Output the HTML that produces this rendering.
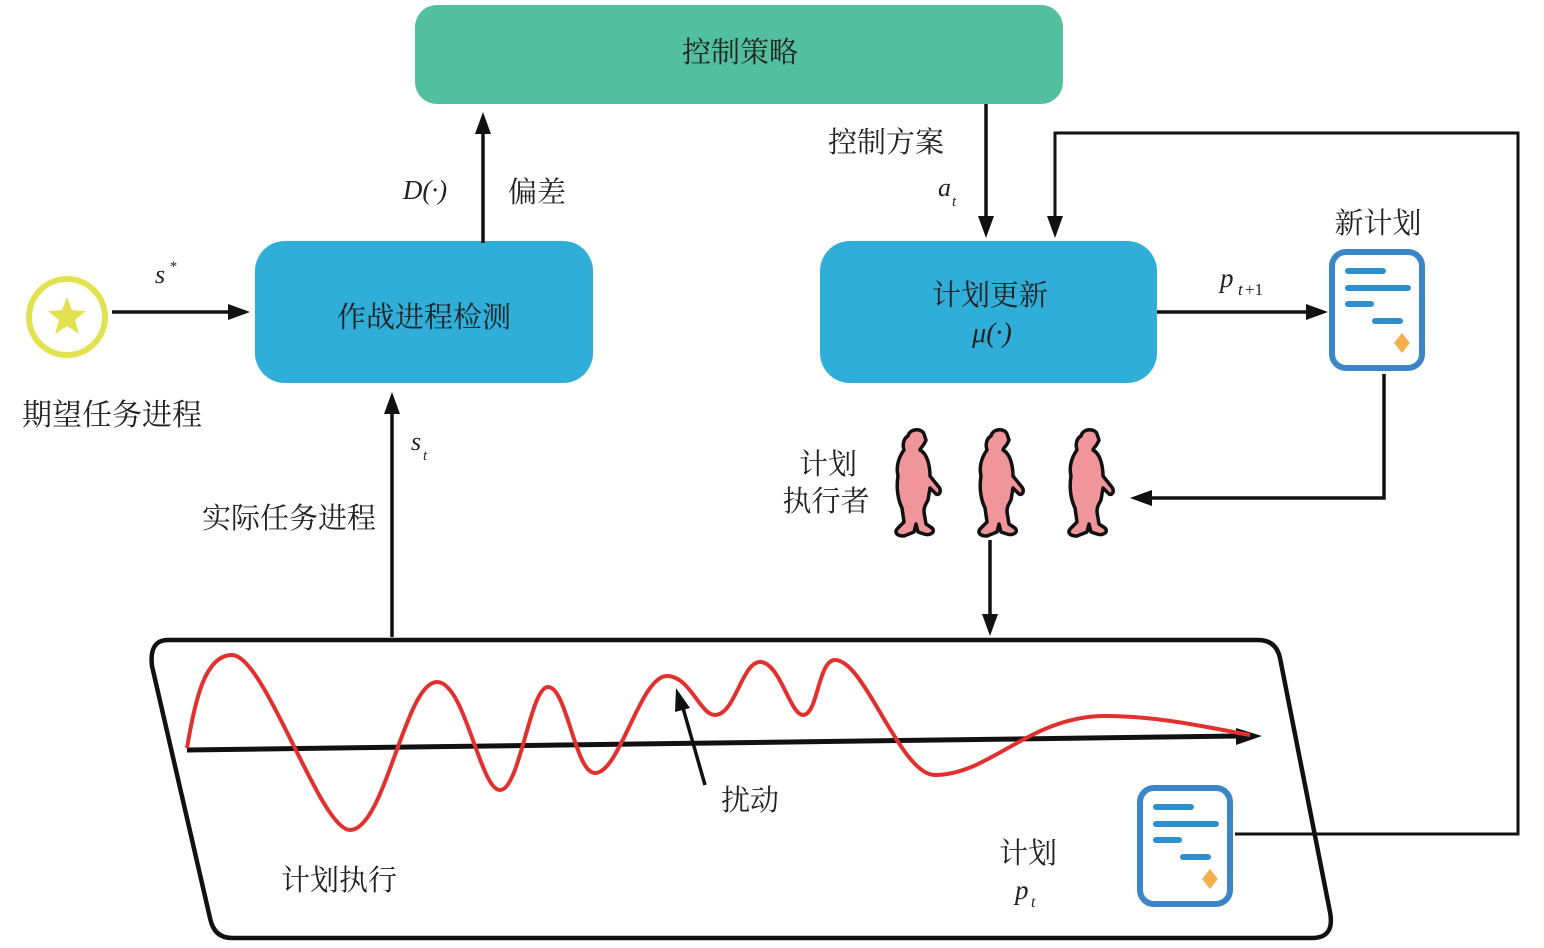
<!DOCTYPE html>
<html><head><meta charset="utf-8"><style>
html,body{margin:0;padding:0;background:#fff;}
svg{display:block;}
.cn{font-family:"Liberation Serif","Noto Serif CJK SC","Noto Sans CJK SC",serif;fill:#222;}
.it{font-family:"Liberation Serif",serif;font-style:italic;fill:#222;}
</style></head><body>
<svg width="1544" height="948" viewBox="0 0 1544 948" xmlns="http://www.w3.org/2000/svg">
<defs>
<marker id="ah" markerWidth="10" markerHeight="8" refX="9" refY="4" orient="auto" markerUnits="userSpaceOnUse" viewBox="0 0 10 8">
</marker>
<g id="sold">
<path d="M18,8 C20,0 32,0 34,6 L36,12 C34,18 30,20 30,22 C38,26 40,40 40,48 L48,58 C52,62 50,68 46,66 L40,60 L38,72 C36,76 34,78 34,84 L36,96 L42,100 C46,104 40,108 34,106 L28,104 L26,96 L24,104 L14,108 C6,108 4,104 8,100 L14,94 L12,80 C8,72 6,60 8,48 C6,40 8,30 14,22 C12,16 14,10 18,8 Z" fill="#f0959a" stroke="#111" stroke-width="3.5" stroke-linejoin="round"/>
</g>
<g id="doc">
<rect x="3" y="3" width="90" height="116" rx="14" fill="#fff" stroke="#3a86c6" stroke-width="6"/>
<g stroke="#2f8fcc" stroke-width="6" stroke-linecap="round">
<line x1="19" y1="22" x2="54" y2="22"/>
<line x1="19" y1="39" x2="79" y2="39"/>
<line x1="19" y1="55" x2="42" y2="55"/>
<line x1="46" y1="72" x2="71" y2="72"/>
</g>
<polygon points="73,84 81,94 73,104 65,94" fill="#f4b04f"/>
</g>
</defs>

<!-- green box -->
<rect x="415" y="5" width="648" height="99" rx="22" fill="#52c09c"/>
<text x="740" y="62" class="cn" font-size="29" text-anchor="middle">控制策略</text>

<!-- blue boxes -->
<rect x="255" y="241" width="338" height="142" rx="30" fill="#2eaed8"/>
<text x="424" y="327" class="cn" font-size="29" text-anchor="middle">作战进程检测</text>
<rect x="820" y="241" width="337" height="142" rx="30" fill="#2eaed8"/>
<text x="990" y="305" class="cn" font-size="29" text-anchor="middle">计划更新</text>
<text x="992" y="342" class="it" font-size="28" text-anchor="middle">μ(·)</text>

<!-- star -->
<circle cx="67" cy="317" r="38" fill="#fff" stroke="#e2e250" stroke-width="6"/>
<polygon points="67,297 72,310 86,311 75,320 79,334 67,326 55,334 59,320 48,311 62,310" fill="#e2e250"/>
<text x="112" y="425" class="cn" font-size="30" text-anchor="middle">期望任务进程</text>
<text x="155" y="283" class="it" font-size="26">s</text><text x="169" y="271" class="it" font-size="15">*</text>

<g stroke="#111" stroke-width="3.5" fill="none">
<line x1="112" y1="312" x2="232" y2="312"/>
<line x1="483" y1="243" x2="483" y2="130"/>
<line x1="986" y1="104" x2="986" y2="220"/>
<polyline points="1235,834 1518,834 1518,133 1055,133 1055,220" stroke-width="3"/>
<line x1="1157" y1="312" x2="1308" y2="312"/>
<polyline points="1384,374 1384,498 1150,498"/>
<line x1="990" y1="540" x2="990" y2="618"/>
<line x1="392" y1="637" x2="392" y2="410"/>
<line x1="705" y1="785" x2="683" y2="708"/>
</g>
<g fill="#111">
<polygon points="250,312 228,304 228,320"/>
<polygon points="483,112 475,134 491,134"/>
<polygon points="986,238 978,216 994,216"/>
<polygon points="1055,238 1047,216 1063,216"/>
<polygon points="1328,312 1306,304 1306,320"/>
<polygon points="1130,498 1152,490 1152,506"/>
<polygon points="990,636 982,614 998,614"/>
<polygon points="392,392 384,414 400,414"/>
<polygon points="676,688 675,712 690,708"/>
</g>

<text x="425" y="199" class="it" font-size="27" text-anchor="middle">D(·)</text>
<text x="508" y="202" class="cn" font-size="29">偏差</text>
<text x="828" y="152" class="cn" font-size="29">控制方案</text>
<text x="938" y="196" class="it" font-size="26">a</text><text x="952" y="206" class="it" font-size="15">t</text>
<text x="1220" y="287" class="it" font-size="27">p</text><text x="1238" y="295" class="it" font-size="17">t</text><text x="1245" y="295" font-family="Liberation Serif,serif" font-size="17" fill="#222">+1</text>
<text x="1378" y="233" class="cn" font-size="29" text-anchor="middle">新计划</text>
<use href="#doc" x="1329" y="249"/>

<text x="828" y="474" class="cn" font-size="29" text-anchor="middle">计划</text>
<text x="826" y="511" class="cn" font-size="29" text-anchor="middle">执行者</text>
<use href="#sold" x="890" y="428"/>
<use href="#sold" x="973" y="428"/>
<use href="#sold" x="1063" y="428"/>

<text x="411" y="450" class="it" font-size="26">s</text><text x="423" y="460" class="it" font-size="15">t</text>
<text x="289" y="528" class="cn" font-size="29" text-anchor="middle">实际任务进程</text>

<!-- parallelogram -->
<path d="M168,640 L1258,640 Q1276,640 1280,658 L1330,912 Q1335,938 1312,938 L232,938 Q214,938 210,918 L152,666 Q149,640 168,640 Z" fill="none" stroke="#111" stroke-width="4.5"/>

<!-- axis -->
<line x1="187" y1="750" x2="1240" y2="736" stroke="#111" stroke-width="5"/>
<polygon points="1262,736 1236,728 1236,745" fill="#111"/>

<!-- wave -->
<path d="M187,748 C195,700 205,655 232,655 C265,655 320,830 350,830 C385,830 405,682 437,682 C465,682 480,790 500,790 C520,790 530,687 548,687 C567,687 575,773 595,773 C620,773 640,676 667,676 C690,676 700,715 715,715 C735,715 742,662 760,662 C780,662 790,715 803,715 C818,715 818,660 835,660 C865,660 900,775 935,775 C990,775 1030,716 1105,716 C1160,716 1210,728 1250,735" fill="none" stroke="#e2302e" stroke-width="4"/>

<text x="750" y="810" class="cn" font-size="29" text-anchor="middle">扰动</text>
<text x="339" y="890" class="cn" font-size="29" text-anchor="middle">计划执行</text>
<text x="1028" y="863" class="cn" font-size="29" text-anchor="middle">计划</text>
<text x="1015" y="899" class="it" font-size="27">p</text><text x="1031" y="907" class="it" font-size="16">t</text>
<use href="#doc" x="1137" y="785"/>
</svg>
</body></html>
